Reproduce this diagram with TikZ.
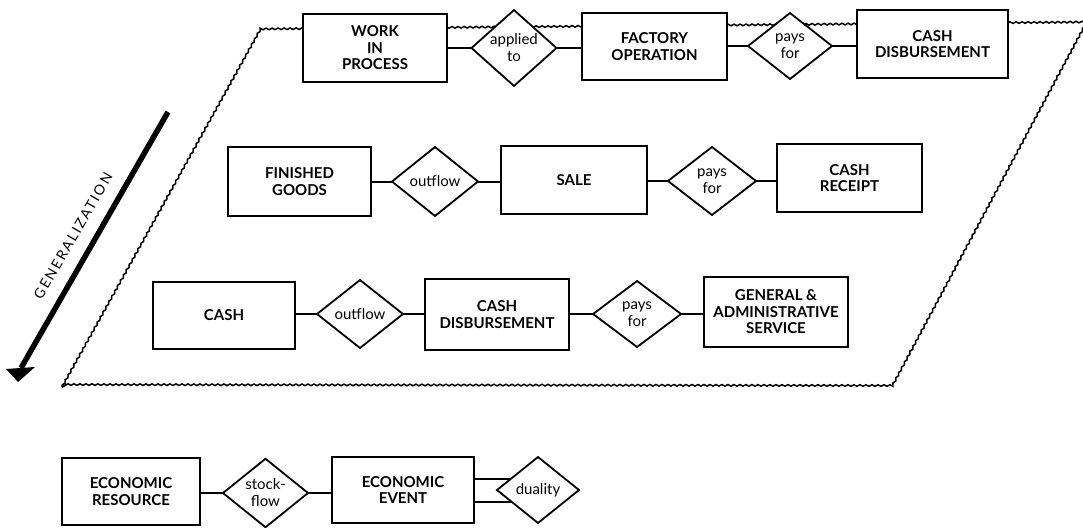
\documentclass[tikz,border=0pt]{standalone}
\usepackage{fontspec}
\setmainfont{Lato}
\usetikzlibrary{shapes.geometric,decorations.pathmorphing,calc}
\begin{document}
\begin{tikzpicture}[x=1pt,y=-1pt,
  ent/.style={draw,line width=1.8pt,fill=white,inner sep=0pt,outer sep=0pt,align=center,
    font=\fontsize{15}{16.5}\selectfont\bfseries},
  rel/.style={diamond,draw,line width=1.8pt,fill=white,inner sep=0pt,outer sep=0pt,align=center,
    minimum width=86pt,minimum height=67pt,font=\fontsize{15}{17}\selectfont},
  conn/.style={line width=2pt},
  wavy/.style={line width=1.5pt,decorate,decoration={snake,amplitude=0.8pt,segment length=6pt}}]
\useasboundingbox (0,0) rectangle (1083,527);
\fill[white] (0,0) rectangle (1083,527);

% generalization plane
\draw[wavy] (62,387) -- (260,30) -- (1087,23) -- (892,388) -- cycle;

% generalization arrow
\coordinate (gtop) at (168,112);
\coordinate (gbot) at (21,368);
\draw[line width=5.5pt] (gtop) -- (gbot);
\fill (6,369) -- (35,367) -- (18,382) -- cycle;
\node[rotate=60,font=\fontsize{14}{14}\selectfont\addfontfeature{LetterSpace=14}] (gen) at (73,236) {GENERALIZATION};

% row 1
\node[ent,minimum width=144pt,minimum height=68pt] (wip) at (375,48) {WORK\\IN\\PROCESS};
\node[rel,minimum width=85pt,minimum height=66pt] (app) at (514,48) {applied\\to};
\node[ent,minimum width=145pt,minimum height=67pt] (fac) at (654.5,46.5) {FACTORY\\OPERATION};
\node[rel,minimum width=84pt,minimum height=66pt] (pay1) at (790,46) {pays\\for};
\node[ent,minimum width=151pt,minimum height=68pt] (cd1) at (932.5,44) {CASH\\DISBURSEMENT};
\draw[conn] (app.west) -- (app.west -| wip.east);
\draw[conn] (app.east) -- (app.east -| fac.west);
\draw[conn] (pay1.west) -- (pay1.west -| fac.east);
\draw[conn] (pay1.east) -- (pay1.east -| cd1.west);

% row 2
\node[ent,minimum width=143pt,minimum height=69pt] (fg) at (299.5,181.5) {FINISHED\\GOODS};
\node[rel,minimum width=86pt,minimum height=69pt] (out1) at (435,181.5) {outflow};
\node[ent,minimum width=146pt,minimum height=68pt] (sale) at (574,180) {SALE};
\node[rel,minimum width=88pt,minimum height=68pt] (pay2) at (712,181) {pays\\for};
\node[ent,minimum width=145pt,minimum height=68pt] (cr) at (849.5,178) {CASH\\RECEIPT};
\draw[conn] (out1.west) -- (out1.west -| fg.east);
\draw[conn] (out1.east) -- (out1.east -| sale.west);
\draw[conn] (pay2.west) -- (pay2.west -| sale.east);
\draw[conn] (pay2.east) -- (pay2.east -| cr.west);

% row 3
\node[ent,minimum width=142pt,minimum height=67pt] (cash) at (224,315.5) {CASH};
\node[rel,minimum width=86pt,minimum height=68pt] (out2) at (360,314) {outflow};
\node[ent,minimum width=144pt,minimum height=71pt] (cd2) at (497,314.5) {CASH\\DISBURSEMENT};
\node[rel,minimum width=88pt,minimum height=66pt] (pay3) at (637,314) {pays\\for};
\node[ent,minimum width=144pt,minimum height=70pt] (gas) at (776,312) {GENERAL \&\\ADMINISTRATIVE\\SERVICE};
\draw[conn] (out2.west) -- (out2.west -| cash.east);
\draw[conn] (out2.east) -- (out2.east -| cd2.west);
\draw[conn] (pay3.west) -- (pay3.west -| cd2.east);
\draw[conn] (pay3.east) -- (pay3.east -| gas.west);

% generic pattern
\node[ent,minimum width=138pt,minimum height=67pt] (er) at (131,491.5) {ECONOMIC\\RESOURCE};
\node[rel,minimum width=85pt,minimum height=68pt] (sf) at (265.5,493) {stock-\\flow};
\node[ent,minimum width=142pt,minimum height=66pt] (ee) at (403,490) {ECONOMIC\\EVENT};
\node[rel,minimum width=82pt,minimum height=66pt] (dual) at (538,490) {duality};
\draw[conn] (sf.west) -- (sf.west -| er.east);
\draw[conn] (sf.east) -- (sf.east -| ee.west);
\coordinate (d1) at ($(dual.west)!0.333!(dual.north)$);
\coordinate (d2) at ($(dual.west)!0.364!(dual.south)$);
\draw[conn] (d1) -- (d1 -| ee.east);
\draw[conn] (d2) -- (d2 -| ee.east);
\end{tikzpicture}
\end{document}
